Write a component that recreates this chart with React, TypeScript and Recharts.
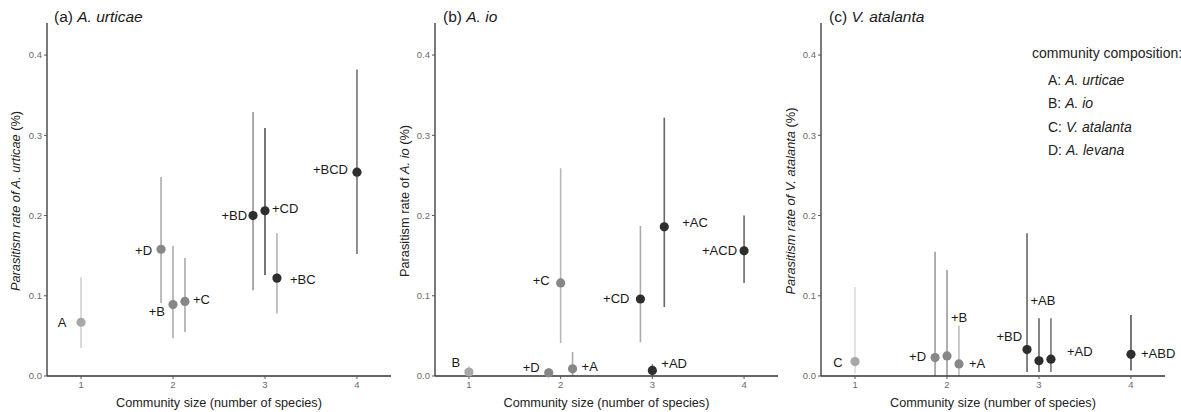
import React from 'react';
import { ScatterChart, Scatter, XAxis, YAxis, ErrorBar, Label } from 'recharts';

// ---------- shared axis values ----------
const communitySizeTicks = [1, 2, 3, 4];
const rateTicks = [0, 0.1, 0.2, 0.3, 0.4];
const xDomain = [0.63, 4.37];
const yDomain = [0, 0.44];

// ---------- panel (a) A. urticae ----------
const labelsA = ['A', '+D', '+B', '+C', '+BD', '+CD', '+BC', '+BCD'];
const sizeA = [1, 1.87, 2, 2.13, 2.87, 3, 3.13, 4];
const rateA = [0.067, 0.158, 0.089, 0.093, 0.2, 0.206, 0.122, 0.254];
const lowA = [0.035, 0.091, 0.047, 0.055, 0.107, 0.126, 0.078, 0.152];
const highA = [0.123, 0.248, 0.162, 0.147, 0.329, 0.309, 0.178, 0.382];

// ---------- panel (b) A. io ----------
const labelsB = ['B', '+D', '+C', '+A', '+CD', '+AD', '+AC', '+ACD'];
const sizeB = [1, 1.87, 2, 2.13, 2.87, 3, 3.13, 4];
const rateB = [0.005, 0.004, 0.116, 0.009, 0.096, 0.007, 0.186, 0.156];
const lowB = [0, 0, 0.041, 0, 0.042, 0, 0.086, 0.116];
const highB = [0.012, 0.01, 0.259, 0.03, 0.187, 0.015, 0.322, 0.2];

// ---------- panel (c) V. atalanta ----------
const labelsC = ['C', '+D', '+B', '+A', '+BD', '+AB', '+AD', '+ABD'];
const sizeC = [1, 1.87, 2, 2.13, 2.87, 3, 3.13, 4];
const rateC = [0.018, 0.023, 0.025, 0.015, 0.033, 0.019, 0.021, 0.027];
const lowC = [0.003, 0, 0, 0, 0.005, 0.005, 0.005, 0.007];
const highC = [0.111, 0.155, 0.132, 0.063, 0.178, 0.072, 0.072, 0.076];

// ---------- styles (kept apart from the data) ----------
const pointFill: Record<number, string> = { 1: '#a8a8a8', 2: '#878787', 3: '#2e2e2e', 4: '#2e2e2e' };
const errColA = ['#d0d0d0', '#ababab', '#ababab', '#ababab', '#969696', '#555555', '#b3b3b3', '#737373'];
const errColB = ['#d0d0d0', '#bdbdbd', '#b8b8b8', '#ababab', '#ababab', '#888888', '#666666', '#666666'];
const errColC = ['#dddddd', '#9c9c9c', '#9c9c9c', '#bdbdbd', '#666666', '#666666', '#777777', '#555555'];

type Place = [number, number, 'start' | 'middle' | 'end'];
const placeA: Place[] = [[-19, 0, 'middle'], [-9, 1, 'end'], [-8, 7, 'end'], [8, -2, 'start'], [-6, 0, 'end'], [7, -2, 'start'], [13, 1, 'start'], [-9, -3, 'end']];
const placeB: Place[] = [[-13, -9, 'middle'], [-9, -5, 'end'], [-11, -2, 'end'], [9, -2, 'start'], [-11, 0, 'end'], [9, -7, 'start'], [18, -4, 'start'], [-7, 0, 'end']];
const placeC: Place[] = [[-17, 1, 'middle'], [-9, -1, 'end'], [4, -38, 'start'], [10, 0, 'start'], [-5, -13, 'end'], [4, -60, 'middle'], [16, -8, 'start'], [10, -1, 'start']];

const FONT = '"Liberation Sans", Arial, Helvetica, sans-serif';

function buildRows(labels: string[], size: number[], rate: number[], low: number[], high: number[]) {
  return labels.map((l, i) => ({
    x: size[i],
    y: rate[i],
    err: [rate[i] - low[i], high[i] - rate[i]],
    label: l,
    idx: i,
  }));
}

const pointShape = (props: any) => {
  const { cx, cy, fill } = props;
  if (cx == null || cy == null) return <g />;
  return <circle cx={cx} cy={cy} r={4.6} fill={fill} />;
};

const makeLabelShape = (place: Place[]) => (props: any) => {
  const { cx, cy, payload } = props;
  if (cx == null || cy == null || !payload) return <g />;
  const [dx, dy, anchor] = place[payload.idx];
  return (
    <text
      x={cx + dx}
      y={cy + dy}
      textAnchor={anchor}
      dominantBaseline="central"
      fontSize={13}
      fontFamily={FONT}
      fill="#1a1a1a"
    >
      {payload.label}
    </text>
  );
};

type PanelProps = {
  left: number;
  width: number;
  rightMargin: number;
  yAxisWidth: number;
  rows: any[];
  errCol: string[];
  place: Place[];
};

function Panel({ left, width, rightMargin, yAxisWidth, rows, errCol, place }: PanelProps) {
  const tickStyle = { fontSize: 9.5, fill: '#6a6a6a', fontFamily: FONT };
  return (
    <div style={{ position: 'absolute', left, top: 0 }}>
      <ScatterChart width={width} height={412} margin={{ top: 23, right: rightMargin, bottom: 0, left: 0 }}>
        <XAxis
          type="number"
          dataKey="x"
          domain={xDomain}
          ticks={communitySizeTicks}
          height={36}
          tickSize={3}
          tickMargin={2}
          tick={tickStyle}
          axisLine={{ stroke: '#333', strokeWidth: 1.3 }}
          tickLine={{ stroke: '#555' }}
        >
          <Label
            value="Community size (number of species)"
            position="insideBottom"
            offset={5}
            style={{ fontSize: 12.7, fill: '#222', fontFamily: FONT }}
          />
        </XAxis>
        <YAxis
          type="number"
          dataKey="y"
          domain={yDomain}
          ticks={rateTicks}
          width={yAxisWidth}
          tickSize={3}
          tickMargin={2}
          tick={tickStyle}
          tickFormatter={(v: number) => v.toFixed(1)}
          axisLine={{ stroke: '#333', strokeWidth: 1.3 }}
          tickLine={{ stroke: '#555' }}
        />
        {rows.map((row, i) => (
          <Scatter
            key={'p' + i}
            data={[row]}
            fill={pointFill[Math.round(row.x)]}
            shape={pointShape}
            isAnimationActive={false}
          >
            <ErrorBar
              dataKey="err"
              direction="y"
              width={0}
              stroke={errCol[i]}
              strokeWidth={1.6}
              isAnimationActive={false}
            />
          </Scatter>
        ))}
        <Scatter key="labels" data={rows} fill="#000" shape={makeLabelShape(place)} isAnimationActive={false} />
      </ScatterChart>
    </div>
  );
}

const textBase: React.CSSProperties = {
  position: 'absolute',
  fontFamily: FONT,
  color: '#1a1a1a',
  whiteSpace: 'nowrap',
  lineHeight: 1,
};

function YTitle({ x, children }: { x: number; children: React.ReactNode }) {
  return (
    <div
      style={{
        ...textBase,
        left: x,
        top: 201,
        fontSize: 12.8,
        color: '#222',
        transform: 'translate(-50%, -50%) rotate(-90deg)',
      }}
    >
      {children}
    </div>
  );
}

export default function App() {
  const rowsA = buildRows(labelsA, sizeA, rateA, lowA, highA);
  const rowsB = buildRows(labelsB, sizeB, rateB, lowB, highB);
  const rowsC = buildRows(labelsC, sizeC, rateC, lowC, highC);
  return (
    <div style={{ position: 'absolute', left: 0, top: 0, width: 1181, height: 412, background: '#fff', overflow: 'hidden' }}>
      <Panel left={0} width={396} rightMargin={5} yAxisWidth={47} rows={rowsA} errCol={errColA} place={placeA} />
      <Panel left={390} width={393} rightMargin={5} yAxisWidth={45} rows={rowsB} errCol={errColB} place={placeB} />
      <Panel left={778} width={403} rightMargin={16} yAxisWidth={43} rows={rowsC} errCol={errColC} place={placeC} />

      {/* panel titles */}
      <div style={{ ...textBase, left: 54, top: 9, fontSize: 15.5 }}>
        (a) <i>A. urticae</i>
      </div>
      <div style={{ ...textBase, left: 443, top: 9, fontSize: 15.5 }}>
        (b) <i>A. io</i>
      </div>
      <div style={{ ...textBase, left: 829, top: 9, fontSize: 15.5 }}>
        (c) <i>V. atalanta</i>
      </div>

      {/* y axis titles */}
      <YTitle x={16}>
        <i>Parasitism rate of A. urticae</i> (%)
      </YTitle>
      <YTitle x={405}>
        Parasitism rate of <i>A. io</i> (%)
      </YTitle>
      <YTitle x={791}>
        <i>Parasitism rate of V. atalanta</i> (%)
      </YTitle>

      {/* legend */}
      <div style={{ ...textBase, left: 1032, top: 46, fontSize: 14, color: '#222' }}>community composition:</div>
      <div style={{ ...textBase, left: 1048, top: 73, fontSize: 14, color: '#222' }}>
        A: <i>A. urticae</i>
      </div>
      <div style={{ ...textBase, left: 1048, top: 96, fontSize: 14, color: '#222' }}>
        B: <i>A. io</i>
      </div>
      <div style={{ ...textBase, left: 1048, top: 120, fontSize: 14, color: '#222' }}>
        C: <i>V. atalanta</i>
      </div>
      <div style={{ ...textBase, left: 1048, top: 143, fontSize: 14, color: '#222' }}>
        D: <i>A. levana</i>
      </div>
    </div>
  );
}
